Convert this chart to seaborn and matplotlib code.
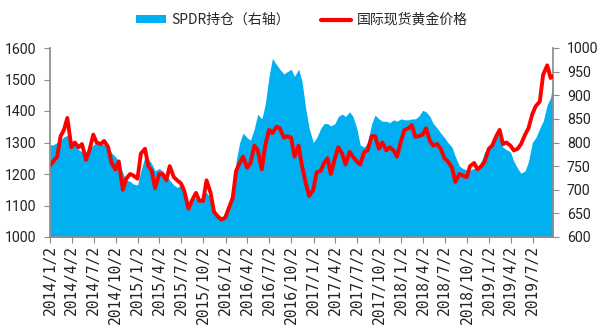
import numpy as np
import pandas as pd
import matplotlib
matplotlib.use("Agg")
import matplotlib.pyplot as plt
from matplotlib.patches import Patch
from matplotlib.lines import Line2D
import seaborn as sns

# ---- data (semi-monthly readings, 1st and 15th of each month, 2014-01 .. 2019-09, plus last day) ----
gold_2014 = [1225, 1240, 1255, 1320, 1340, 1378, 1285, 1300, 1285, 1295, 1245, 1275,
             1325, 1300, 1295, 1305, 1285, 1235, 1215, 1240, 1150, 1185, 1200, 1195]
gold_2015 = [1185, 1265, 1280, 1225, 1210, 1155, 1200, 1200, 1180, 1225, 1190, 1180,
             1170, 1145, 1090, 1115, 1140, 1115, 1115, 1180, 1140, 1080, 1065, 1055]
gold_2016 = [1062, 1090, 1125, 1210, 1235, 1255, 1220, 1235, 1290, 1275, 1215, 1290,
             1340, 1330, 1350, 1345, 1315, 1320, 1315, 1255, 1290, 1225, 1170, 1130]
gold_2017 = [1150, 1205, 1210, 1235, 1250, 1200, 1250, 1285, 1265, 1230, 1270, 1255,
             1240, 1230, 1270, 1275, 1320, 1320, 1280, 1300, 1275, 1285, 1275, 1255]
gold_2018 = [1305, 1340, 1345, 1355, 1318, 1320, 1325, 1345, 1305, 1290, 1295, 1280,
             1250, 1240, 1220, 1175, 1200, 1195, 1190, 1225, 1235, 1215, 1225, 1240]
gold_2019 = [1280, 1290, 1320, 1340, 1295, 1300, 1290, 1275, 1280, 1295, 1325, 1345,
             1390, 1415, 1430, 1515, 1545, 1505, 1510]

spdr_2014 = [795, 795, 800, 805, 812, 815, 800, 795, 785, 780, 780, 785,
             795, 800, 800, 795, 790, 778, 770, 760, 735, 720, 718, 712]
spdr_2015 = [710, 740, 770, 765, 755, 740, 745, 740, 730, 720, 710, 705,
             710, 690, 670, 680, 682, 678, 690, 695, 680, 660, 648, 643]
spdr_2016 = [643, 660, 700, 760, 800, 820, 810, 805, 830, 860, 850, 880,
             940, 978, 965, 955, 945, 950, 955, 940, 955, 930, 870, 830]
spdr_2017 = [800, 810, 830, 840, 840, 835, 840, 855, 860, 855, 865, 855,
             830, 795, 790, 800, 840, 858, 850, 845, 845, 842, 848, 845]
spdr_2018 = [850, 848, 848, 850, 850, 855, 868, 865, 855, 840, 830, 820,
             810, 800, 790, 770, 750, 745, 742, 742, 745, 745, 760, 780]
spdr_2019 = [788, 800, 820, 810, 790, 785, 780, 760, 745, 735, 740, 760,
             800, 810, 830, 845, 880, 895, 925]

gold = gold_2014 + gold_2015 + gold_2016 + gold_2017 + gold_2018 + gold_2019
spdr = spdr_2014 + spdr_2015 + spdr_2016 + spdr_2017 + spdr_2018 + spdr_2019

dates = list(pd.date_range("2014-01-01", "2019-09-16", freq="SMS")) + [pd.Timestamp("2019-09-25")]
df = pd.DataFrame({"date": dates, "gold": gold, "spdr": spdr})

tick_labels = ["2014/1/2", "2014/4/2", "2014/7/2", "2014/10/2", "2015/1/2", "2015/4/2",
               "2015/7/2", "2015/10/2", "2016/1/2", "2016/4/2", "2016/7/2", "2016/10/2",
               "2017/1/2", "2017/4/2", "2017/7/2", "2017/10/2", "2018/1/2", "2018/4/2",
               "2018/7/2", "2018/10/2", "2019/1/2", "2019/4/2", "2019/7/2"]
legend_labels = ["SPDR持仓（右轴）", "国际现货黄金价格"]

# ---- style ----
sns.set_theme(style="white")
plt.rcParams["font.family"] = ["Noto Sans CJK SC", "DejaVu Sans"]

BLUE = "#00B0F0"
RED = "#FF0000"
GRAY = "#8C8C8C"

fig = plt.figure(figsize=(6.0, 3.3), dpi=100)
ax = fig.add_axes([50 / 600, 1 - 237 / 330, 503 / 600, 189 / 330])
ax2 = ax.twinx()

# area on right axis
ax2.fill_between(df["date"], 600, df["spdr"], color=BLUE, linewidth=0)
ax2.set_ylim(600, 1000)

# gold price line on left axis, drawn above the area
sns.lineplot(data=df, x="date", y="gold", ax=ax, color=RED, linewidth=2.8, legend=False)
ax.set_ylim(1000, 1600)
ax.set_zorder(ax2.get_zorder() + 1)
ax.patch.set_visible(False)

xmin, xmax = pd.Timestamp("2014-01-02"), pd.Timestamp("2019-09-25")
ax.set_xlim(xmin, xmax)
tick_dates = [pd.Timestamp(s.replace("/", "-")) for s in tick_labels]
ax.set_xticks(tick_dates)
ax.set_xticklabels(tick_labels, rotation=90, family="DejaVu Sans Mono", fontsize=10.5)
ax.set_xlabel("")
ax.set_ylabel("")

ax.set_yticks(np.arange(1000, 1601, 100))
ax2.set_yticks(np.arange(600, 1001, 50))
for lab in list(ax.get_yticklabels()) + list(ax2.get_yticklabels()):
    lab.set_family("Roboto")
    lab.set_fontsize(10.2)

for a in (ax, ax2):
    for s in a.spines.values():
        s.set_visible(False)
    a.tick_params(colors="#222222")
ax.spines["left"].set_visible(True)
ax.spines["left"].set_color(GRAY)
ax.spines["bottom"].set_visible(True)
ax.spines["bottom"].set_color(GRAY)
ax2.spines["right"].set_visible(True)
ax2.spines["right"].set_color(GRAY)

ax.tick_params(axis="y", which="both", left=True, length=4, width=0.8, color=GRAY, pad=6)
ax.tick_params(axis="x", bottom=True, length=4, width=0.8, color=GRAY, pad=2)
ax2.tick_params(axis="y", right=True, length=4, width=0.8, color=GRAY, pad=6)
ax.grid(False)
ax2.grid(False)

handles = [Patch(facecolor=BLUE, edgecolor="none"), Line2D([0], [0], color=RED, linewidth=3)]
fig.legend(handles, legend_labels, loc="center", bbox_to_anchor=(0.503, 1 - 20 / 330), ncol=2,
           frameon=False, fontsize=10, handlelength=2.2, handleheight=0.45, columnspacing=2.2,
           handletextpad=0.4)

fig.savefig("out.png", dpi=100)
